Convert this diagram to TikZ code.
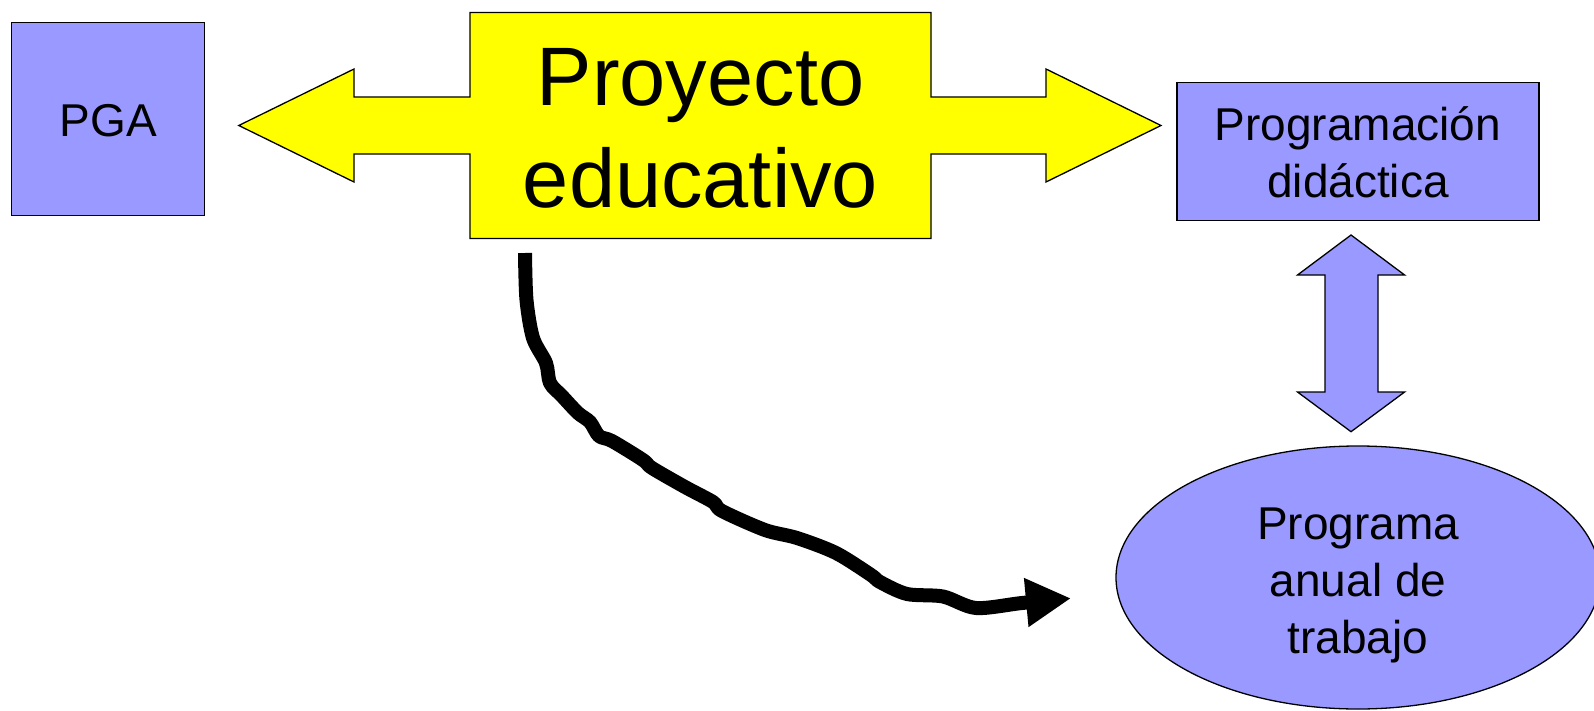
\documentclass[tikz,border=0pt]{standalone}
\usepackage{fontspec}
\setmainfont{Liberation Sans}
\usetikzlibrary{shapes.geometric,arrows.meta}
\definecolor{boxblue}{HTML}{9999FF}
\definecolor{boxyellow}{HTML}{FFFF00}
\begin{document}
\begin{tikzpicture}[x=1pt,y=-1pt,
  outline/.style={draw=black,line width=1.3pt,line join=miter},
  bluebox/.style={outline,fill=boxblue,inner sep=0pt},
  bigtxt/.style={font=\fontsize{83}{102}\selectfont,align=center,inner sep=0pt},
  smalltxt/.style={font=\fontsize{46}{57}\selectfont,align=center,inner sep=0pt},
  wavy/.style={line width=14pt,line cap=butt,line join=round}]
\useasboundingbox (0,0) rectangle (1594,711);
\begin{scope}
\clip (0,0) rectangle (1594,711);
% PGA box
\node[bluebox,rectangle,minimum width=193pt,minimum height=193pt] (pga) at (108.2,119.2) {};
\node[smalltxt] (pgatxt) at (108.2,120.8) {PGA};
% yellow double arrow with central box
\draw[outline,fill=boxyellow]
  (238.8,125.5) -- (354,69) -- (354,97) -- (470,97) -- (470,12.5) -- (931,12.5)
  -- (931,97) -- (1046,97) -- (1046,69) -- (1161,125.5) -- (1046,182) -- (1046,154)
  -- (931,154) -- (931,238.5) -- (470,238.5) -- (470,154) -- (354,154) -- (354,182) -- cycle;
\node[inner sep=0pt,minimum width=461pt,minimum height=226pt] (proy) at (700.5,125.5) {};
\node[bigtxt] (proytxt) at (700.5,128) {Proyecto\\educativo};
% Programacion didactica box
\node[bluebox,rectangle,minimum width=362pt,minimum height=138pt] (prog) at (1358,151.7) {};
\node[smalltxt] (progtxt) at (1358,152) {Programación\\didáctica};
% vertical double arrow
\draw[outline,fill=boxblue]
  (1351,235) -- (1404.6,275) -- (1378,275) -- (1378,392) -- (1404.6,392) -- (1351,431.7)
  -- (1297.5,392) -- (1325,392) -- (1325,275) -- (1297.5,275) -- cycle;
% ellipse
\node[bluebox,ellipse,minimum width=484pt,minimum height=263pt] (pat) at (1358,577.5) {};
\node[smalltxt] (pattxt) at (1358,585) {Programa\\anual de\\trabajo};
% wavy arrow
\coordinate (wstart) at (525,253);
\coordinate (wend) at (1071,598.3);
\draw[wavy,-{Triangle[length=45pt,width=46pt]}] plot[smooth,tension=0.5] coordinates {
  (wstart) (526.5,300) (533,338) (546,363) (550,383) (562,396) (578,413) (590,422)
  (599,436) (612,441) (643,460) (652,468) (685,487) (713,502) (722,511) (765,530)
  (797,538) (836,553) (871,575) (880,582) (907,594) (943,596.5) (976,608) (1022,603) (wend)};
\end{scope}
\end{tikzpicture}
\end{document}
